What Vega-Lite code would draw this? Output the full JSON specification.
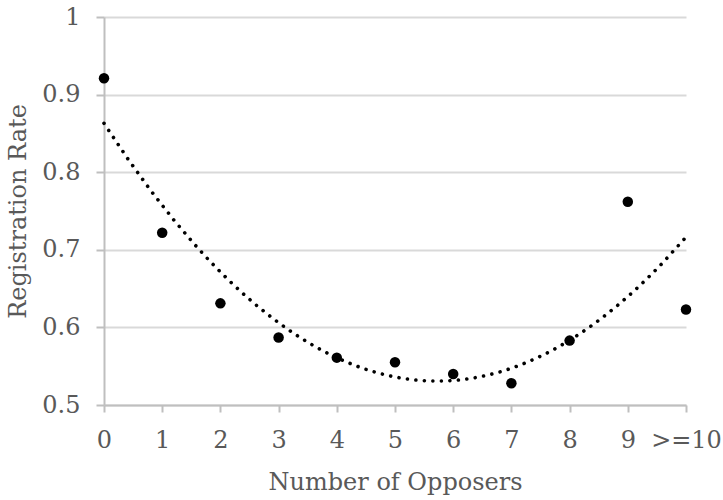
{
  "$schema": "https://vega.github.io/schema/vega-lite/v6.json",
  "autosize": "none",
  "width": 582,
  "height": 388,
  "padding": {"left": 104, "top": 17, "right": 37, "bottom": 95},
  "background": "white",
  "config": {
    "view": {"stroke": null},
    "font": "DejaVu Serif",
    "axis": {
      "labelFont": "DejaVu Serif",
      "titleFont": "DejaVu Serif",
      "labelColor": "#595959",
      "titleColor": "#595959",
      "labelFontSize": 24,
      "titleFontSize": 24,
      "titleFontWeight": "normal",
      "domainColor": "#bfbfbf",
      "domainWidth": 2,
      "tickColor": "#bfbfbf",
      "tickWidth": 2,
      "gridColor": "#d9d9d9",
      "gridWidth": 2
    }
  },
  "data": {
    "values": [
      {"opposers": 0, "rate": 0.921},
      {"opposers": 1, "rate": 0.722},
      {"opposers": 2, "rate": 0.631},
      {"opposers": 3, "rate": 0.587},
      {"opposers": 4, "rate": 0.561},
      {"opposers": 5, "rate": 0.555},
      {"opposers": 6, "rate": 0.540},
      {"opposers": 7, "rate": 0.528},
      {"opposers": 8, "rate": 0.583},
      {"opposers": 9, "rate": 0.762},
      {"opposers": 10, "rate": 0.623}
    ]
  },
  "encoding": {
    "x": {
      "field": "opposers",
      "type": "quantitative",
      "scale": {"domain": [0, 10], "nice": false, "zero": false},
      "axis": {
        "title": "Number of Opposers",
        "values": [0, 1, 2, 3, 4, 5, 6, 7, 8, 9, 10],
        "labelExpr": "datum.value == 10 ? '>=10' : datum.label",
        "grid": false,
        "tickSize": 7,
        "labelPadding": 16,
        "titlePadding": 18,
        "labelFlush": false,
        "labelOverlap": false
      }
    },
    "y": {
      "field": "rate",
      "type": "quantitative",
      "scale": {"domain": [0.5, 1], "nice": false, "zero": false},
      "axis": {
        "title": "Registration Rate",
        "values": [0.5, 0.6, 0.7, 0.8, 0.9, 1],
        "labelExpr": "datum.value == 1 ? '1' : format(datum.value, '.1f')",
        "tickSize": 8,
        "labelPadding": 16,
        "titlePadding": 11,
        "labelFlush": false,
        "labelOverlap": false
      }
    }
  },
  "layer": [
    {
      "transform": [
        {"regression": "rate", "on": "opposers", "method": "poly", "order": 2, "extent": [0, 10]}
      ],
      "mark": {"type": "line", "color": "black", "strokeWidth": 3.6, "strokeCap": "round", "strokeDash": [0.01, 8.5]}
    },
    {
      "mark": {"type": "circle", "color": "black", "opacity": 1, "size": 110}
    }
  ]
}
